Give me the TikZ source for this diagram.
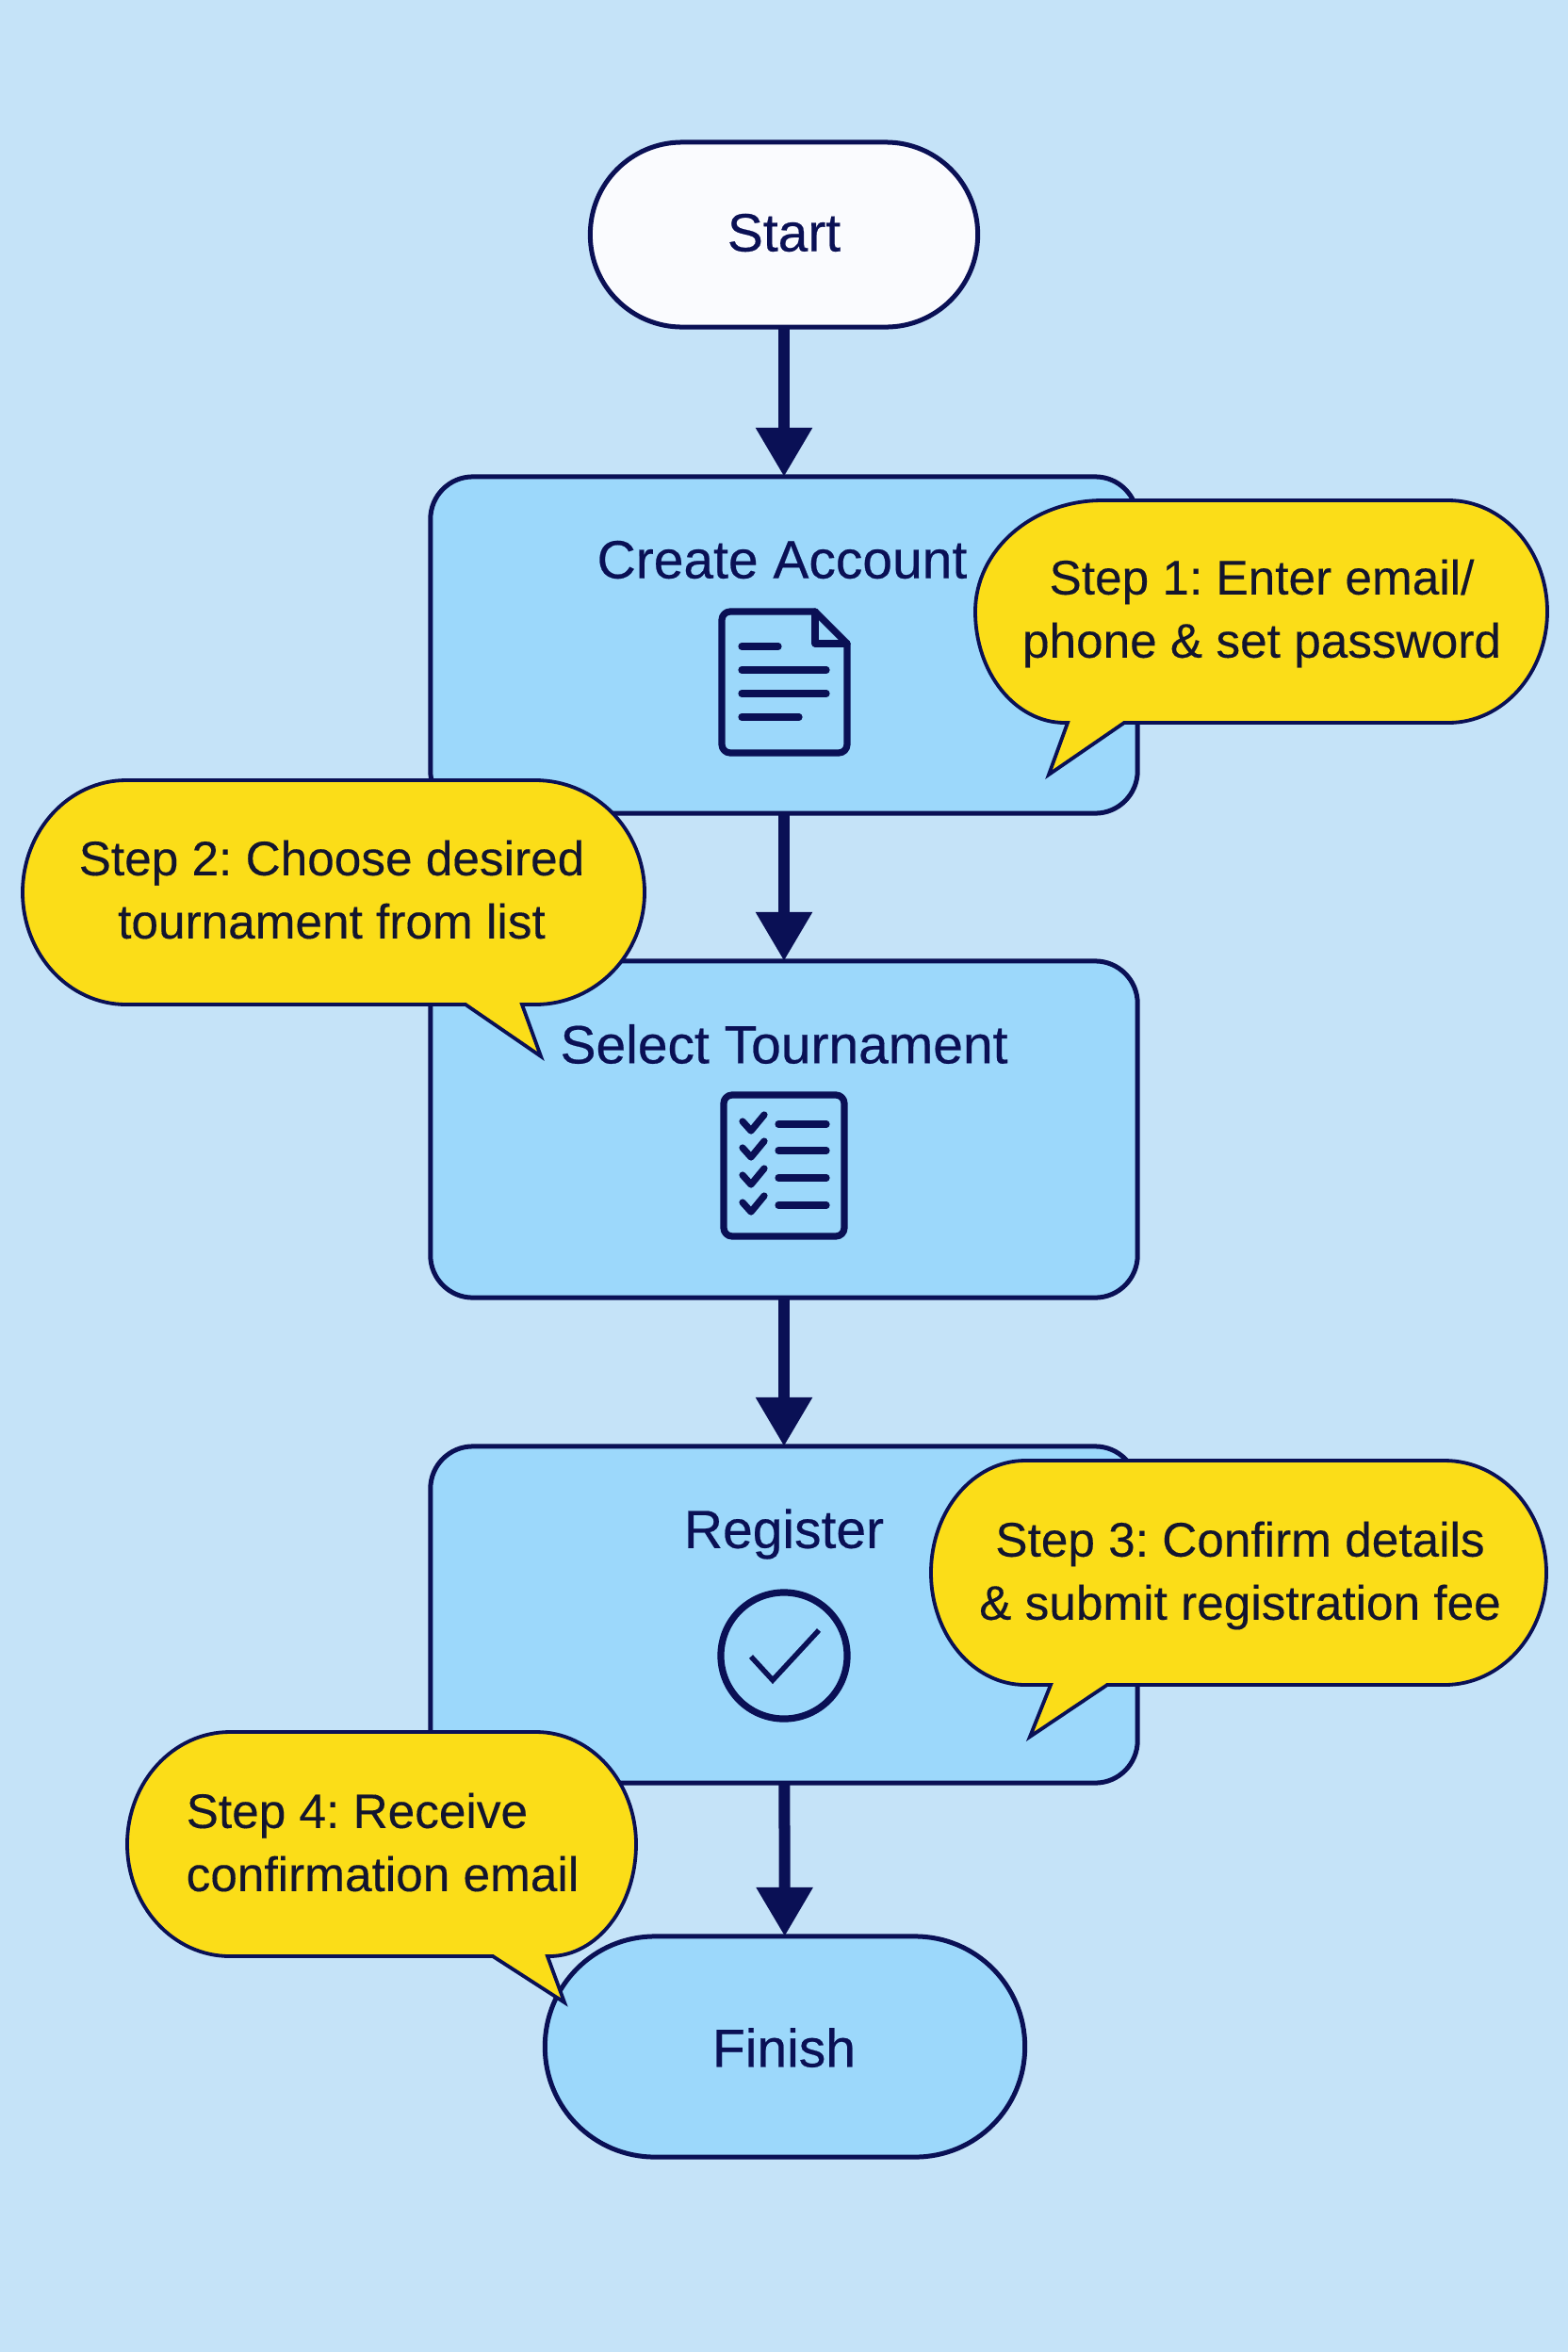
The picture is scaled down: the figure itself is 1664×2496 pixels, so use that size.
\documentclass[tikz,border=0pt]{standalone}
\usepackage{fontspec}
\setmainfont{Liberation Sans}
\usetikzlibrary{arrows.meta}
\frenchspacing
\definecolor{bgblue}{HTML}{C5E3F8}
\definecolor{boxblue}{HTML}{9CD8FB}
\definecolor{navy}{HTML}{0A1055}
\definecolor{calloutyellow}{HTML}{FBDD18}
\definecolor{startwhite}{HTML}{FAFBFE}
\definecolor{inkdark}{HTML}{13152E}
\newcommand{\labelfont}{\fontsize{16.2pt}{20pt}\selectfont\addfontfeature{FakeBold=0.4}}
\newcommand{\calloutfont}{\fontsize{14.6pt}{19.06pt}\selectfont\addfontfeature{FakeBold=0.2}}
% L R T B top-rxL top-rxR tail bottom-rxL bottom-rxR
\newcommand{\calloutpath}[9]{%
  \path[calloutshape] ({#1+#5},#3) -- ({#2-#6},#3)
    arc[start angle=90,end angle=0,x radius={#6*0.01cm},y radius={(#4-#3)/2*0.01cm}]
    arc[start angle=0,end angle=-90,x radius={#9*0.01cm},y radius={(#4-#3)/2*0.01cm}]
    -- #7 -- ({#1+#8},#4)
    arc[start angle=270,end angle=180,x radius={#8*0.01cm},y radius={(#4-#3)/2*0.01cm}]
    arc[start angle=180,end angle=90,x radius={#5*0.01cm},y radius={(#4-#3)/2*0.01cm}]
    -- cycle;}
\tikzset{
  stepbox/.style={draw=navy,fill=boxblue,line width=0.05cm,rounded corners=0.45cm,minimum width=7.5cm,minimum height=3.57cm,outer sep=0pt,inner sep=0pt},
  pill/.style={draw=navy,line width=0.05cm,outer sep=0pt,inner sep=0pt},
  steplabel/.style={text=navy,font=\labelfont,inner sep=0pt},
  calloutshape/.style={draw=navy,fill=calloutyellow,line width=0.038cm,line join=miter},
  callouttext/.style={text=inkdark,font=\calloutfont,inner sep=0pt,align=center},
  flowarrow/.style={draw=navy,line width=0.12cm,-{Triangle[length=0.52cm,width=0.57cm]}},
  iconline/.style={draw=navy,line width=0.072cm,line cap=round,line join=round},
  iconthin/.style={draw=navy,line width=0.055cm,line cap=butt,line join=miter}
}
\begin{document}
\begin{tikzpicture}[x=0.01cm,y=-0.01cm]
\fill[bgblue] (0,0) rectangle (1664,2496);
\useasboundingbox (0,0) rectangle (1664,2496);

\node[pill,fill=startwhite,minimum width=4.11cm,minimum height=1.96cm,rounded corners=0.975cm] (start) at (832,249) {};
\node[stepbox] (create) at (832,684.5) {};
\node[stepbox] (select) at (832,1198.5) {};
\node[stepbox] (register) at (832,1713.5) {};
\node[pill,fill=boxblue,minimum width=5.09cm,minimum height=2.34cm,rounded corners=1.165cm] (finish) at (833,2172) {};

\draw[flowarrow] (start) -- (create);
\draw[flowarrow] (create) -- (select);
\draw[flowarrow] (select) -- (register);
\draw[flowarrow] (register) -- (finish);

\node[steplabel] (startlabel) at (832,247) {Start};
\node[steplabel] (createlabel) at (830,594) {Create Account};
\node[steplabel] (selectlabel) at (832,1108) {Select Tournament};
\node[steplabel] (registerlabel) at (832,1628) {Register};
\node[steplabel] (finishlabel) at (832,2173) {Finish};

% document icon
\draw[iconline] (865,649) -- (775,649) to[out=180,in=90] (766,658) -- (766,790) to[out=270,in=180] (775,799) -- (890,799) to[out=0,in=270] (899,790) -- (899,683) -- cycle;
\draw[iconline] (865,649) -- (865,683) -- (899,683);
\draw[iconline] (787,686) -- (826,686);
\draw[iconline] (787,711) -- (877,711);
\draw[iconline] (787,736) -- (877,736);
\draw[iconline] (787,761) -- (848,761);

% checklist icon
\draw[iconline,rounded corners=0.09cm] (768,1162) rectangle (896,1312);
\foreach \yy in {1193,1221,1250,1279}{
  \draw[iconline] (826,\yy) -- (877,\yy);
  \draw[iconline] (788,{\yy-3}) -- (797,{\yy+7}) -- (811,{\yy-10});
}

% check-circle icon
\draw[iconline] (832,1757) circle[radius=0.67cm];
\draw[iconthin] (797,1758) -- (820,1783) -- (869,1730);

% callouts
\calloutpath{1035}{1642}{531}{767}{135}{105}{(1193,767) -- (1113,822) -- (1133,767)}{95}{105}
\node[callouttext] (note1) at (1339,651) {Step 1: Enter email/\\phone \& set password};

\calloutpath{24}{684}{828}{1066}{110}{116}{(554,1066) -- (574,1121) -- (494,1066)}{110}{116}
\node[callouttext] (note2) at (352,944) {Step 2: Choose desired\\tournament from list};

\calloutpath{988}{1641}{1550}{1788}{100}{108}{(1175,1788) -- (1093,1843) -- (1115,1788)}{100}{108}
\node[callouttext] (note3) at (1316,1672) {Step 3: Confirm details\\\& submit registration fee};

\calloutpath{135}{675}{1838}{2076}{109}{106}{(581,2076) -- (599,2125) -- (523,2076)}{109}{92}
\node[callouttext,align=left] (note4) at (406,1955) {Step 4: Receive\\confirmation email};
\end{tikzpicture}
\end{document}
